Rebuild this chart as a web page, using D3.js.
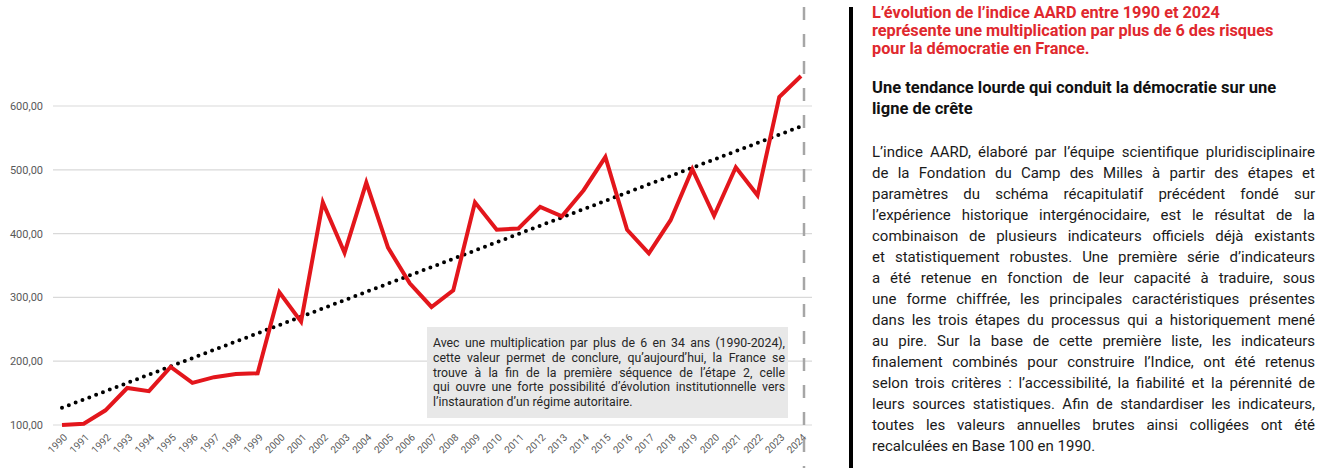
<!DOCTYPE html>
<html>
<head>
<meta charset="utf-8">
<script src="https://cdn.jsdelivr.net/npm/d3@7"></script>
<style>
  body { margin: 0; background: #fff; }
  svg { display: block; }
</style>
</head>
<body>
<div id="chart"></div>
<script>
// data (indice AARD, base 100 en 1990)
const years = d3.range(1990, 2025);
const values = [100, 102, 123, 158, 153, 191, 166, 175, 180, 181,
                308, 262, 449, 370, 480, 378, 322, 285, 311, 449,
                406, 408, 442, 427, 468, 520, 406, 369, 421, 501,
                428, 504, 460, 614, 647];
const yTicks = [100, 200, 300, 400, 500, 600];

const noteLines = [
  "Avec une multiplication par plus de 6 en 34 ans (1990-2024),",
  "cette valeur permet de conclure, qu’aujourd’hui, la France se",
  "trouve à la fin de la première séquence de l’étape 2, celle",
  "qui ouvre une forte possibilité d’évolution institutionnelle vers",
  "l’instauration d’un régime autoritaire."
];
const titleLines = [
  "L’évolution de l’indice AARD entre 1990 et 2024",
  "représente une multiplication par plus de 6 des risques",
  "pour la démocratie en France."
];
const subtitleLines = [
  "Une tendance lourde qui conduit la démocratie sur une",
  "ligne de crête"
];
const bodyLines = [
  "L’indice AARD, élaboré par l’équipe scientifique pluridisciplinaire",
  "de la Fondation du Camp des Milles à partir des étapes et",
  "paramètres du schéma récapitulatif précédent fondé sur",
  "l’expérience historique intergénocidaire, est le résultat de la",
  "combinaison de plusieurs indicateurs officiels déjà existants",
  "et statistiquement robustes. Une première série d’indicateurs",
  "a été retenue en fonction de leur capacité à traduire, sous",
  "une forme chiffrée, les principales caractéristiques présentes",
  "dans les trois étapes du processus qui a historiquement mené",
  "au pire. Sur la base de cette première liste, les indicateurs",
  "finalement combinés pour construire l’Indice, ont été retenus",
  "selon trois critères : l’accessibilité, la fiabilité et la pérennité de",
  "leurs sources statistiques. Afin de standardiser les indicateurs,",
  "toutes les valeurs annuelles brutes ainsi colligées ont été",
  "recalculées en Base 100 en 1990."
];

const W = 1329, H = 468;
const data = years.map((y, i) => ({year: y, value: values[i]}));
const font = "Roboto, 'Liberation Sans', sans-serif";

const svg = d3.select("#chart").append("svg")
    .attr("width", W)
    .attr("height", H);

const x = d3.scalePoint()
    .domain(years)
    .range([62, 801]);

const y = d3.scaleLinear()
    .domain([100, 600])
    .range([425, 106]);

const fr = d3.formatLocale({decimal: ",", thousands: " ", grouping: [3], currency: ["", " €"]});
const fmt = fr.format(".2f");

// gridlines
svg.append("g")
  .selectAll("line")
  .data(yTicks)
  .join("line")
    .attr("x1", 53)
    .attr("x2", 812)
    .attr("y1", d => y(d))
    .attr("y2", d => y(d))
    .attr("stroke", "#d9d9d9")
    .attr("stroke-width", 1.2);

// y axis labels
svg.append("g")
  .selectAll("text")
  .data(yTicks)
  .join("text")
    .attr("x", 43)
    .attr("y", d => y(d) + 4)
    .attr("text-anchor", "end")
    .attr("font-family", font)
    .attr("font-size", 11)
    .attr("fill", "#595959")
    .text(d => fmt(d));

// x axis labels
svg.append("g")
  .selectAll("text")
  .data(years)
  .join("text")
    .attr("transform", d => `translate(${x(d) + 6},${438}) rotate(-45)`)
    .attr("text-anchor", "end")
    .attr("font-family", font)
    .attr("font-size", 10)
    .attr("fill", "#595959")
    .text(d => d);

// dashed vertical line
svg.append("line")
    .attr("x1", 804).attr("x2", 804)
    .attr("y1", 7).attr("y2", H)
    .attr("stroke", "#a6a6a6")
    .attr("stroke-width", 2.5)
    .attr("stroke-dasharray", "13,14");

// linear trend (least squares on the series)
const n = years.length;
const mx = d3.mean(years), my = d3.mean(values);
const slope = d3.sum(years, (d, i) => (d - mx) * (values[i] - my)) / d3.sum(years, d => (d - mx) * (d - mx));
const trend = [years[0], years[n - 1]].map(yr => ({year: yr, value: my + slope * (yr - mx)}));

const line = d3.line()
    .x(d => x(d.year))
    .y(d => y(d.value));

// note box
svg.append("rect")
    .attr("x", 427)
    .attr("y", 327)
    .attr("width", 361)
    .attr("height", 91)
    .attr("fill", "#e8e8e8");

svg.append("path")
    .datum(trend)
    .attr("d", line)
    .attr("fill", "none")
    .attr("stroke", "#000")
    .attr("stroke-width", 4)
    .attr("stroke-linecap", "round")
    .attr("stroke-dasharray", "0,7.3");

svg.append("path")
    .datum(data)
    .attr("d", line)
    .attr("fill", "none")
    .attr("stroke", "#e3161c")
    .attr("stroke-width", 4)
    .attr("stroke-linejoin", "miter");

// justified lines of text: word-spacing stretches each line to the width
function block(g, lines, opts) {
  const t = g.selectAll("text")
    .data(lines)
    .join("text")
      .attr("x", opts.x)
      .attr("y", (d, i) => opts.y + i * opts.lh)
      .attr("font-family", font)
      .attr("font-size", opts.size)
      .attr("font-weight", opts.weight || "normal")
      .attr("fill", opts.fill)
      .text(d => d);
  if (opts.justify) {
    t.each(function(d, i) {
      if (i === lines.length - 1) return;
      const natural = this.getComputedTextLength();
      const spaces = (d.match(/ /g) || []).length;
      if (spaces > 0) d3.select(this).attr("word-spacing", (opts.width - natural) / spaces);
    });
  }
}

block(svg.append("g"), noteLines, {
  x: 433, y: 347, lh: 14.8, width: 352, size: 12.3,
  fill: "#262626", justify: true
});

// right panel
svg.append("rect")
    .attr("x", 849)
    .attr("y", 7)
    .attr("width", 4)
    .attr("height", H - 7)
    .attr("fill", "#000");

block(svg.append("g"), titleLines, {
  x: 872, y: 18, lh: 18, size: 16.3, weight: "bold", fill: "#e0282e"
});

block(svg.append("g"), subtitleLines, {
  x: 872, y: 93, lh: 21, size: 16.5, weight: "bold", fill: "#111"
});

block(svg.append("g"), bodyLines, {
  x: 872, y: 157, lh: 21, width: 443, size: 15,
  fill: "#1a1a1a", justify: true
});
</script>
</body>
</html>
